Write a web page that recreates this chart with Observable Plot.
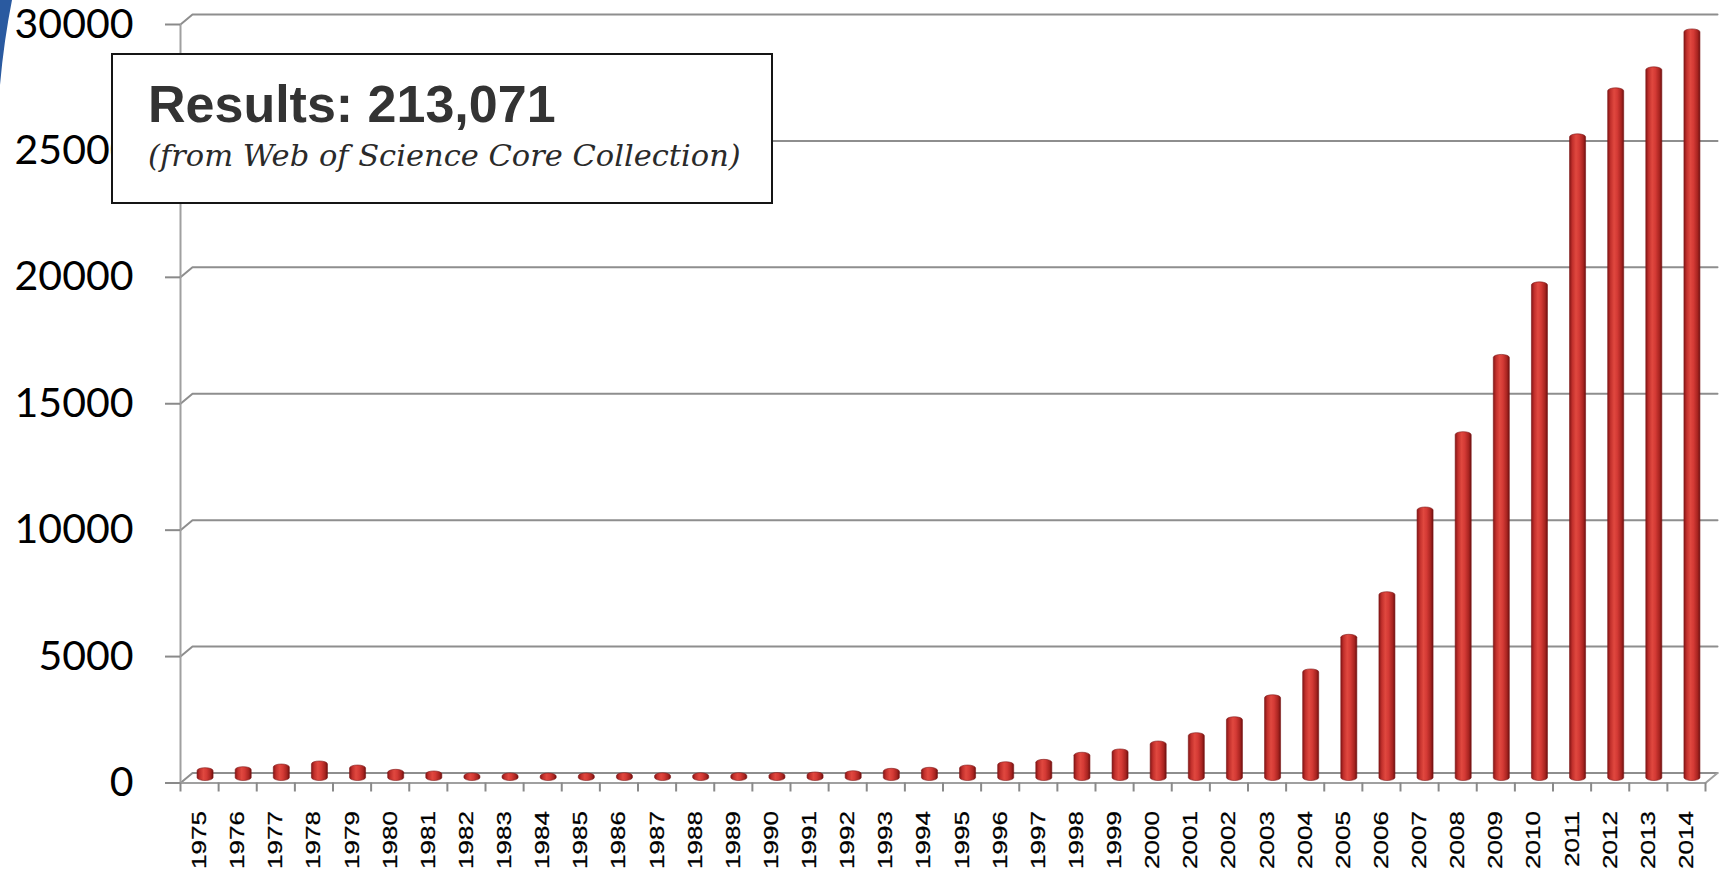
<!DOCTYPE html>
<html>
<head>
<meta charset="utf-8">
<script src="https://cdn.jsdelivr.net/npm/d3@7"></script>
<script src="https://cdn.jsdelivr.net/npm/@observablehq/plot@0.6"></script>
<style>
  html, body { margin: 0; padding: 0; background: #fff; overflow: hidden; }
  #wrap { position: relative; width: 1721px; height: 874px; background: #fff; }
  #wrap svg { color: #000; }
  g[aria-label="y-axis tick label"], g[aria-label="y-axis tick label"] text {
    font-family: Lato, "Open Sans", sans-serif; font-size: 41px; fill: #000;
  }
  g[aria-label="x-axis tick label"], g[aria-label="x-axis tick label"] text {
    font-family: "Liberation Sans", Arial, sans-serif; font-size: 20.5px; fill: #000;
    stroke: #000; stroke-width: 0.25px;
  }
  g[aria-label="y-axis tick"], g[aria-label="x-axis tick"] { stroke: #8a8a8a; stroke-width: 2px; }
  #box {
    position: absolute; left: 111px; top: 53px; width: 658px; height: 147px;
    background: #fff; border: 2px solid #151515;
  }
  #box .t1 {
    position: absolute; left: 35px; top: 23px; white-space: nowrap;
    font: bold 52px/52px "Liberation Sans", Arial, sans-serif; color: #333;
  }
  #box .t2 {
    position: absolute; left: 35px; top: 85px; white-space: nowrap;
    font: italic 30.5px/31px "DejaVu Serif", "Liberation Serif", serif; color: #2a2a2a;
  }
  #corner { position: absolute; left: 0; top: 0; }
</style>
</head>
<body>
<div id="wrap"></div>
<script>
// ---- data ----
const years = [1975, 1976, 1977, 1978, 1979, 1980, 1981, 1982, 1983, 1984,
               1985, 1986, 1987, 1988, 1989, 1990, 1991, 1992, 1993, 1994,
               1995, 1996, 1997, 1998, 1999, 2000, 2001, 2002, 2003, 2004,
               2005, 2006, 2007, 2008, 2009, 2010, 2011, 2012, 2013, 2014];
const counts = [270, 310, 415, 535, 375, 205, 140, 60, 60, 55,
                60, 70, 65, 65, 70, 75, 100, 150, 245, 285,
                375, 505, 600, 880, 1010, 1325, 1655, 2285, 3155, 4175,
                5545, 7230, 10580, 13560, 16615, 19485, 25340, 27160, 27990, 29490];
const yTicks = [0, 5000, 10000, 15000, 20000, 25000, 30000];
const boxTitle = "Results: 213,071";
const boxSubtitle = "(from Web of Science Core Collection)";

const data = years.map((year, i) => ({year, count: counts[i]}));
const xMin = years[0] - 0.5, xMax = years[years.length - 1] + 0.5;
const boundaries = years.map(y => y - 0.5).concat([xMax]);

// 3D depth offset of the back wall, in data units (≈12px right, 10px up)
const DX = 0.315, DY = 395;

const wall = yTicks.flatMap(t => [
  {t, x: xMin, y: t},
  {t, x: xMin + DX, y: t + DY},
  {t, x: xMax + DX, y: t + DY}
]);
const floorFront = [
  {x: xMin, y: 0}, {x: xMax, y: 0}, {x: xMax + DX, y: DY}
];

const chart = Plot.plot({
  width: 1721,
  height: 874,
  marginLeft: 180,
  marginRight: 16,
  marginTop: 24,
  marginBottom: 91.5,
  style: {background: "#fff", overflow: "visible"},
  x: {type: "linear", domain: [xMin, xMax], label: null},
  y: {domain: [0, 30000], label: null},
  marks: [
    Plot.line(wall, {x: "x", y: "y", z: "t", stroke: "#8e8e8e", strokeWidth: 2}),
    Plot.line(floorFront, {x: "x", y: "y", stroke: "#a0a0a0", strokeWidth: 2}),
    Plot.ruleX([xMin], {y1: 0, y2: 30000, stroke: "#a0a0a0", strokeWidth: 2}),
    Plot.axisY({ticks: yTicks, tickSize: 15, tickPadding: 32, tickFormat: d => String(d)}),
    Plot.axisX({ticks: boundaries, tickSize: 9, tickFormat: () => ""}),
    Plot.axisX({ticks: years, tickSize: 0, tickPadding: 28, tickRotate: -90, tickFormat: d => String(d)}),
    Plot.rectY(data, {
      x1: d => d.year - 0.21,
      x2: d => d.year + 0.21,
      y1: 0,
      y2: "count",
      dx: 6,
      dy: -5,
      insetTop: -3,
      insetBottom: -3,
      rx: 8,
      ry: 3,
      fill: "url(#cyl)",
      stroke: "#7d1515",
      strokeWidth: 0.6
    })
  ]
});

// cylinder shading gradient
const defs = d3.select(chart).insert("defs", ":first-child");
const grad = defs.append("linearGradient").attr("id", "cyl")
  .attr("x1", 0).attr("x2", 1).attr("y1", 0).attr("y2", 0);
[[0, "#861616"], [0.18, "#c2302c"], [0.4, "#e0483f"], [0.6, "#d43a35"], [0.85, "#a82420"], [1, "#6e1010"]]
  .forEach(([o, c]) => grad.append("stop").attr("offset", o).attr("stop-color", c));

// stretch the rotated year labels along their length
chart.querySelectorAll('g[aria-label="x-axis tick label"] text').forEach(t => {
  t.setAttribute("transform", t.getAttribute("transform") + " scale(1.27,1)");
});

const wrap = document.getElementById("wrap");
wrap.appendChild(chart);

// decorative slide corner
const corner = document.createElementNS("http://www.w3.org/2000/svg", "svg");
corner.setAttribute("id", "corner");
corner.setAttribute("width", "20");
corner.setAttribute("height", "100");
corner.innerHTML = '<path d="M12,0 Q4,40 0,85 L0,0 Z" fill="#2a5aa0"/>';
wrap.appendChild(corner);

// annotation box
const box = document.createElement("div");
box.id = "box";
box.innerHTML = '<div class="t1"></div><div class="t2"></div>';
box.querySelector(".t1").textContent = boxTitle;
box.querySelector(".t2").textContent = boxSubtitle;
wrap.appendChild(box);
</script>
</body>
</html>
